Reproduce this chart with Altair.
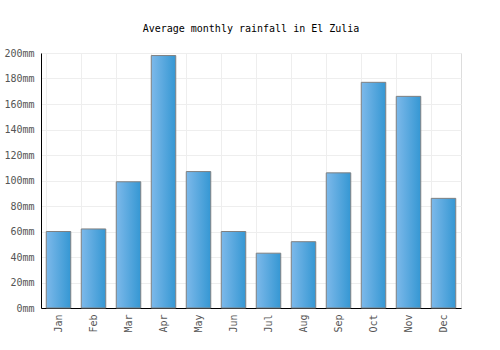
import altair as alt
import pandas as pd

months = ["Jan", "Feb", "Mar", "Apr", "May", "Jun", "Jul", "Aug", "Sep", "Oct", "Nov", "Dec"]
rain = [60, 62, 99, 198, 107, 60, 43, 52, 106, 177, 166, 86]
yticks = [0, 20, 40, 60, 80, 100, 120, 140, 160, 180, 200]

df = pd.DataFrame({"month": months, "rain": rain})

font = "DejaVu Sans Mono"

chart = alt.Chart(df).mark_bar(
    stroke="#808080",
    strokeWidth=1,
    color=alt.Gradient(
        gradient="linear",
        x1=0, x2=1, y1=0, y2=0,
        stops=[alt.GradientStop(color="#7db9ea", offset=0),
               alt.GradientStop(color="#3597d3", offset=1)],
    ),
).encode(
    x=alt.X("month:N", sort=months, title=None,
            scale=alt.Scale(paddingInner=0.3, paddingOuter=0.15),
            axis=alt.Axis(labelAngle=270, labelFont=font, labelFontSize=10,
                          labelColor="#555555", domainColor="#000000", ticks=False,
                          grid=True, gridColor="#eeeeee", bandPosition=0,
                          labelPadding=6, labelBaseline="middle", labelAlign="right")),
    y=alt.Y("rain:Q", title=None,
            scale=alt.Scale(domain=[0, 200], nice=False),
            axis=alt.Axis(values=yticks, labelExpr="datum.value + 'mm'", labelFont=font,
                          labelFontSize=10, labelColor="#555555", domainColor="#000000",
                          ticks=False, gridColor="#eeeeee", labelPadding=7)),
).properties(
    width=420,
    height=255,
    title=alt.TitleParams("Average monthly rainfall in El Zulia", font=font, fontSize=10,
                          fontWeight="normal", color="#000000", offset=14),
    autosize=alt.AutoSizeParams(type="none"),
    padding={"left": 41, "top": 53, "right": 39, "bottom": 42},
).configure_view(stroke="#eeeeee").configure(background="white")

chart.save("out.html", embed_options={"renderer": "svg", "actions": False})
